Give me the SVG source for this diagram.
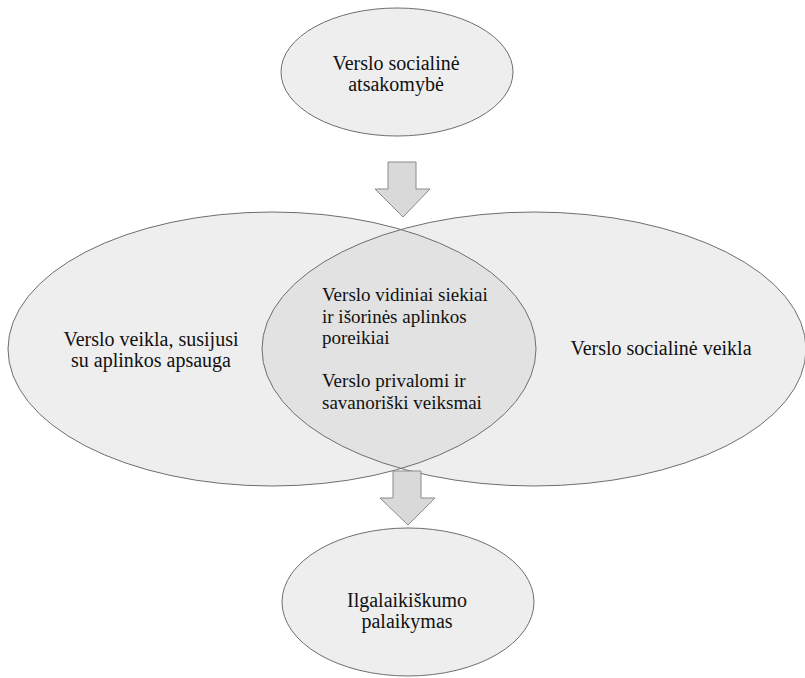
<svg xmlns="http://www.w3.org/2000/svg" width="805" height="678" viewBox="0 0 805 678">
<style>
.node{fill:#eeeeee;stroke:#6e6e6e;stroke-width:1}
.outline{fill:none;stroke:#6e6e6e;stroke-width:1}
.lens{fill:#e2e2e2}
.arrow{fill:#d9d9d9;stroke:#8a8a8a;stroke-width:1}
text{font-family:'Liberation Serif','Times New Roman',Times,serif;fill:#111}
.t{font-size:20px;text-anchor:middle}
.m{font-size:19px}
</style>
<defs>
<clipPath id="clipRight"><ellipse cx="534" cy="349" rx="272" ry="137"/></clipPath>
</defs>
<rect width="805" height="678" fill="#ffffff"/>
<g id="left-ellipse">
<ellipse cx="272" cy="349" rx="264" ry="137" fill="#eeeeee"/>
</g>
<g id="right-ellipse">
<ellipse cx="534" cy="349" rx="272" ry="137" fill="#eeeeee"/>
</g>
<g id="intersection">
<ellipse cx="272" cy="349" rx="264" ry="137" class="lens" clip-path="url(#clipRight)"/>
<ellipse cx="272" cy="349" rx="264" ry="137" class="outline"/>
<ellipse cx="534" cy="349" rx="272" ry="137" class="outline"/>
</g>
<g id="left-text">
<text class="t" x="151" y="346" font-family="Liberation Serif, serif">Verslo veikla, susijusi</text>
<text class="t" x="151" y="367" font-family="Liberation Serif, serif">su aplinkos apsauga</text>
</g>
<g id="right-text">
<text class="t" x="661" y="355" font-family="Liberation Serif, serif">Verslo socialinė veikla</text>
</g>
<g id="intersection-text">
<text class="m" x="322" y="301" font-family="Liberation Serif, serif">Verslo vidiniai siekiai</text>
<text class="m" x="322" y="323" font-family="Liberation Serif, serif">ir išorinės aplinkos</text>
<text class="m" x="322" y="344" font-family="Liberation Serif, serif">poreikiai</text>
<text class="m" x="322" y="387" font-family="Liberation Serif, serif">Verslo privalomi ir</text>
<text class="m" x="322" y="409" font-family="Liberation Serif, serif">savanoriški veiksmai</text>
</g>
<g id="top-node">
<ellipse class="node" cx="397" cy="72" rx="116" ry="64"/>
<text class="t" x="396" y="70" font-family="Liberation Serif, serif">Verslo socialinė</text>
<text class="t" x="396" y="91" font-family="Liberation Serif, serif">atsakomybė</text>
</g>
<g id="bottom-node">
<ellipse class="node" cx="408" cy="602" rx="126" ry="74"/>
<text class="t" x="407" y="607" font-family="Liberation Serif, serif">Ilgalaikiškumo</text>
<text class="t" x="407" y="628" font-family="Liberation Serif, serif">palaikymas</text>
</g>
<g id="connectors">
<polygon class="arrow" points="388,162 416,162 416,189 430,189 403,217 375,189 388,189"/>
<polygon class="arrow" points="393,471 421,471 421,498 435,498 408,525 380,498 393,498"/>
</g>
</svg>
